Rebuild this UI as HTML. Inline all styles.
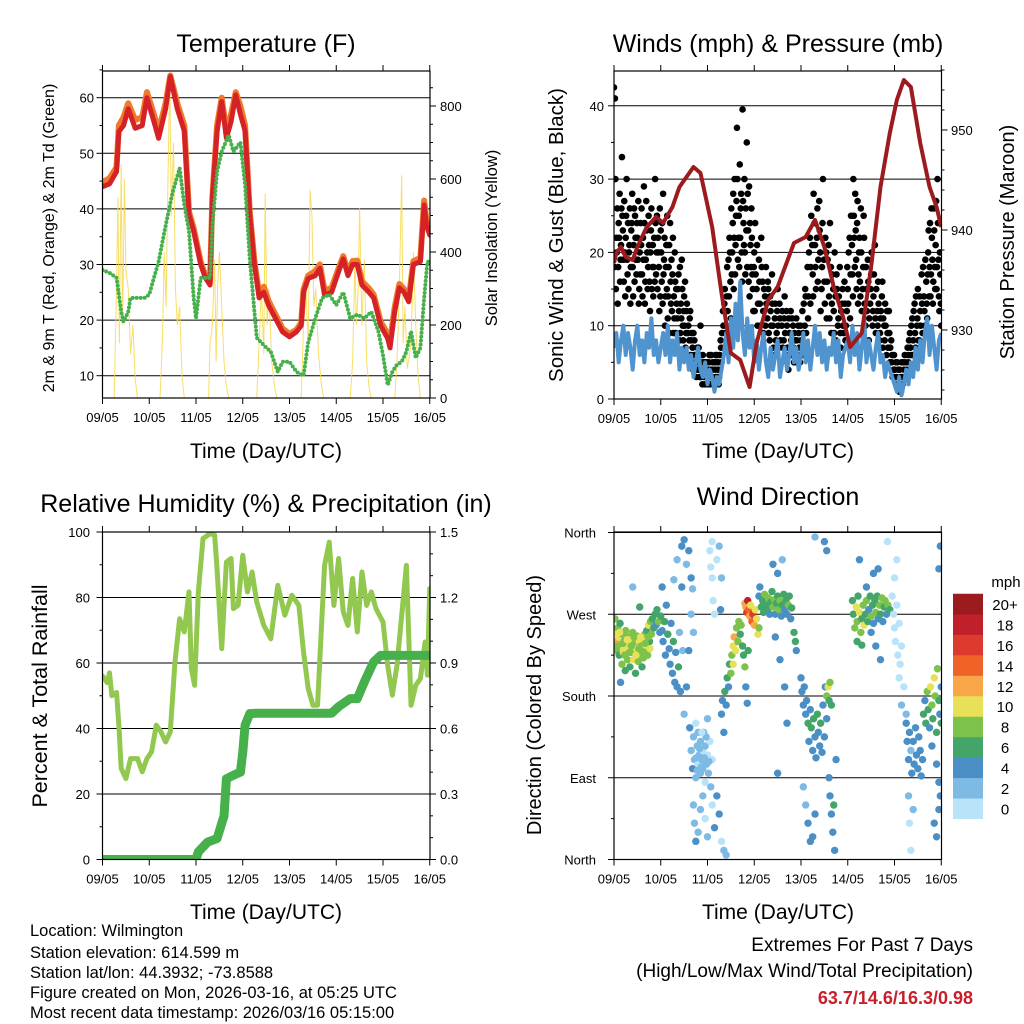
<!DOCTYPE html>
<html><head><meta charset="utf-8">
<style>
html,body{margin:0;padding:0;background:#fff;}
svg{display:block;font-family:"Liberation Sans",Arial,sans-serif;}
</style></head>
<body>
<svg id="fig" width="1024" height="1024" viewBox="0 0 1024 1024" xmlns="http://www.w3.org/2000/svg">
<defs>
<clipPath id="cpT"><rect x="102.5" y="71" width="327.5" height="327"/></clipPath>
<clipPath id="cpW"><rect x="614" y="71" width="327.5" height="328"/></clipPath>
<clipPath id="cpR"><rect x="102.5" y="532" width="327.5" height="327.5"/></clipPath>
<clipPath id="cpD"><rect x="614" y="532" width="327.5" height="327.5"/></clipPath>
</defs>
</svg>
<script>
// ---------- DATA ----------
const dayLabels=['09/05','10/05','11/05','12/05','13/05','14/05','15/05','16/05'];
const tempTicks=[10,20,30,40,50,60];
const solarTicks=[0,200,400,600,800];
const windTicks=[0,10,20,30,40];
const presTicks=[930,940,950];
const rhTicks=[0,20,40,60,80,100];
const rainTicks=['0.0','0.3','0.6','0.9','1.2','1.5'];
const dirTicks=['North','East','South','West','North'];
const speedBins=['0','2','4','6','8','10','12','14','16','18','20+'];
const speedColors=['#b9e3f8','#7dbbe5','#4a8fc6','#44a56b','#7cc24b','#e9e05a','#f7a748','#ef6328','#dc3a2c','#c0202a','#9b1b1f'];

const tempDays=[0,0.15,0.3,0.35,0.45,0.55,0.7,0.85,0.95,1.1,1.2,1.35,1.45,1.6,1.75,1.85,1.95,2.1,2.2,2.3,2.35,2.45,2.55,2.65,2.75,2.85,2.95,3.05,3.15,3.25,3.35,3.45,3.55,3.7,3.85,4.0,4.15,4.25,4.3,4.4,4.55,4.65,4.75,4.9,5.05,5.15,5.25,5.35,5.45,5.55,5.7,5.8,5.95,6.1,6.15,6.25,6.35,6.45,6.55,6.65,6.8,6.88,6.93,7.0];
const temp2m=[44,44.5,46.7,53.9,55,58,54.5,55,60,55.7,52.7,58,63.8,58,54,39,36,30,27.6,26.3,42,53.9,59.3,52.7,55.7,60.5,57,54,39,30,24,25,22.7,20.3,17.9,17,17.9,19,25,27.5,28,29.3,24.5,25,28.7,31,28,30,30,26.3,25,24,19,16.7,15,21.5,25.8,25,23.3,30,30.5,40.7,37,35.3];
const temp9m=[44.8,45.5,47.5,55,56.5,59,56,56.5,61,57,54,59,64,59,55,39.5,36.5,30.5,28,26.8,42,55,60,54,57,61,58.5,55,39.5,30.5,24.8,26,23.5,21,18.5,17.5,18.3,19.5,25.5,28,28.8,30,25.3,25.8,29.3,31.5,28.7,30.6,30.7,27,25.7,24.6,19.7,17.5,16,22.3,26.5,25.6,23.8,30.6,31.2,41.5,37.8,36];
const dewDays=[0,0.15,0.3,0.4,0.45,0.55,0.6,0.75,0.9,1.0,1.1,1.2,1.35,1.5,1.65,1.75,1.85,1.95,2.0,2.1,2.2,2.3,2.35,2.45,2.55,2.7,2.8,2.95,3.05,3.15,3.3,3.45,3.6,3.75,3.85,4.0,4.15,4.3,4.4,4.55,4.7,4.85,5.0,5.15,5.3,5.45,5.6,5.75,5.9,6.0,6.1,6.2,6.3,6.4,6.5,6.6,6.7,6.8,6.88,6.95,7.0];
const dewVals=[29,28.5,27.6,21.5,19.7,21.5,24,24,24,24.6,27.6,30.5,37,43,47.3,40.7,36,24,20.3,27.6,27.6,27.6,37,46.7,50.3,53.3,50.3,52,44.3,31,16.8,15.5,14.3,10.7,12.5,12.5,10.7,10,16,20.3,24,24.6,22.7,25,20.3,21,20.3,21.5,18,13.7,8.3,10.7,12,12.5,14.3,18,13.2,15,24,30.5,30.5];
const solarDays=[0,0.25,0.3,0.33,0.36,0.4,0.43,0.47,0.5,0.55,0.6,0.65,0.7,0.75,1.23,1.28,1.32,1.36,1.4,1.44,1.47,1.52,1.56,1.6,1.65,1.7,1.75,2.27,2.3,2.35,2.4,2.43,2.46,2.5,2.55,2.6,2.65,2.7,3.3,3.35,3.4,3.45,3.48,3.52,3.56,3.62,3.68,3.73,4.25,4.3,4.35,4.4,4.44,4.48,4.52,4.56,4.62,4.68,4.73,5.3,5.35,5.4,5.43,5.47,5.5,5.55,5.6,5.65,5.7,5.75,6.25,6.3,6.35,6.4,6.43,6.47,6.52,6.6,6.65,6.7,6.75,6.8,7.0];
const solarVals=[0,0,300,550,150,640,200,600,350,300,120,200,50,0,0,150,400,250,600,890,500,700,300,200,250,60,0,0,150,200,380,100,300,400,250,100,30,0,0,150,300,120,560,200,300,100,30,0,0,200,300,150,570,500,250,300,120,40,0,0,100,380,200,300,520,200,380,100,30,0,0,100,300,610,150,250,80,150,400,200,60,0,0];

const presDays=[0,0.05,0.15,0.25,0.4,0.5,0.7,0.9,1.05,1.25,1.4,1.7,1.85,2.1,2.3,2.5,2.7,2.9,3.05,3.3,3.5,3.85,4.1,4.3,4.5,4.7,4.9,5.05,5.3,5.5,5.7,5.9,6.05,6.2,6.35,6.55,6.75,6.9,7.0];
const presVals=[936.7,937.7,938.3,937.3,937,938.3,940.3,941.3,940.7,942.3,944.3,946.3,945.7,940.3,933.7,927.7,927,924.3,928.7,933,934.3,938.7,939.3,941,938.3,934.3,931.3,928.3,929.7,936.3,944.3,949.7,953,955,954.3,948.7,944.3,942.3,940.3];
const windStep=0.05;
const windVals=[7,9,5,8,10,6,9,7,4,8,10,6,8,5,9,7,11,6,8,5,7,9,6,10,5,8,6,9,4,7,5,7,4,6,3,5,7,4,3,5,2,4,3,1,3,2,4,6,9,5,11,7,13,8,16,9,6,11,7,10,5,8,4,7,9,5,3,7,4,6,8,3,5,7,4,6,9,5,7,4,6,9,5,8,4,7,10,6,9,5,8,4,7,6,9,5,8,3,6,7,8,5,10,6,9,4,7,11,5,8,6,4,7,9,5,6,3,5,4,3,2,1,3,0.5,2,4,2,5,3,7,4,8,5,9,11,6,10,7,4,8,9];
const gustPts=[[0,42.5],[0.02,41],[0.03,30],[0.05,22],[0.07,26],[0.09,18],[0.1,24],[0.12,28],[0.13,16],[0.15,21],[0.17,33],[0.18,25],[0.2,19],[0.22,27],[0.24,14],[0.25,22],[0.27,30],[0.29,17],[0.3,24],[0.32,20],[0.34,26],[0.35,13],[0.37,23],[0.39,28],[0.4,18],[0.42,21],[0.44,16],[0.45,25],[0.47,19],[0.5,22],[0.52,27],[0.54,15],[0.55,20],[0.57,24],[0.6,17],[0.62,22],[0.64,29],[0.66,13],[0.68,19],[0.7,23],[0.72,15],[0.75,21],[0.77,12],[0.8,26],[0.82,18],[0.84,14],[0.86,22],[0.88,30],[0.9,17],[0.92,25],[0.95,20],[0.97,12],[1.0,23],[1.02,16],[1.05,28],[1.07,19],[1.1,14],[1.12,21],[1.15,11],[1.17,18],[1.2,24],[1.22,13],[1.25,17],[1.27,9],[1.3,20],[1.33,15],[1.35,11],[1.38,17],[1.4,8],[1.43,13],[1.45,19],[1.47,10],[1.5,14],[1.53,7],[1.55,12],[1.58,9],[1.6,6],[1.62,11],[1.65,8],[1.67,5],[1.7,9],[1.73,6],[1.75,4],[1.78,7],[1.8,5],[1.83,3],[1.85,10],[1.88,4],[1.9,6],[1.93,3],[1.95,5],[1.98,4],[2.0,2],[2.03,5],[2.05,3],[2.08,6],[2.1,4],[2.13,2],[2.15,5],[2.18,3],[2.2,6],[2.22,4],[2.25,3],[2.28,8],[2.3,5],[2.33,12],[2.35,7],[2.37,15],[2.4,10],[2.42,18],[2.44,9],[2.46,14],[2.48,20],[2.5,11],[2.52,17],[2.54,24],[2.56,15],[2.58,30],[2.6,21],[2.62,27],[2.63,37],[2.65,19],[2.67,25],[2.69,32],[2.7,22],[2.72,28],[2.74,16],[2.75,39.5],[2.77,24],[2.79,30],[2.8,20],[2.82,26],[2.84,35],[2.85,18],[2.87,23],[2.89,29],[2.9,14],[2.92,21],[2.94,26],[2.96,17],[2.98,12],[3.0,20],[3.02,24],[3.05,15],[3.07,10],[3.1,19],[3.12,13],[3.15,22],[3.18,16],[3.2,9],[3.23,14],[3.25,18],[3.28,11],[3.3,15],[3.33,8],[3.35,12],[3.38,17],[3.4,10],[3.43,6],[3.45,13],[3.48,9],[3.5,15],[3.53,7],[3.55,11],[3.58,5],[3.6,12],[3.63,8],[3.65,14],[3.68,6],[3.7,10],[3.73,4],[3.75,9],[3.78,12],[3.8,6],[3.83,10],[3.85,5],[3.88,8],[3.9,11],[3.93,6],[3.95,9],[3.98,5],[4.0,8],[4.03,12],[4.05,6],[4.08,10],[4.1,14],[4.12,7],[4.15,11],[4.17,20],[4.2,13],[4.22,25],[4.25,17],[4.27,28],[4.3,21],[4.32,15],[4.35,26],[4.37,19],[4.4,23],[4.42,12],[4.45,18],[4.47,30],[4.5,16],[4.52,22],[4.55,11],[4.57,19],[4.6,14],[4.62,24],[4.65,9],[4.67,17],[4.7,12],[4.72,20],[4.75,8],[4.77,15],[4.8,11],[4.83,18],[4.85,7],[4.88,13],[4.9,10],[4.93,16],[4.95,8],[4.98,12],[5.0,15],[5.02,20],[5.05,11],[5.07,25],[5.1,17],[5.12,30],[5.14,22],[5.16,28],[5.18,19],[5.2,24],[5.22,13],[5.24,20],[5.26,16],[5.28,26],[5.3,12],[5.33,18],[5.35,22],[5.38,10],[5.4,15],[5.43,19],[5.45,8],[5.48,13],[5.5,17],[5.53,10],[5.55,14],[5.58,21],[5.6,9],[5.63,12],[5.65,16],[5.68,8],[5.7,11],[5.73,14],[5.75,7],[5.78,10],[5.8,13],[5.83,6],[5.85,9],[5.88,12],[5.9,5],[5.93,8],[5.95,6],[5.98,4],[6.0,3],[6.03,5],[6.05,2],[6.08,4],[6.1,1],[6.13,3],[6.15,5],[6.18,2],[6.2,4],[6.22,6],[6.25,3],[6.28,7],[6.3,5],[6.33,9],[6.35,6],[6.38,11],[6.4,8],[6.43,13],[6.45,7],[6.48,10],[6.5,15],[6.53,8],[6.55,12],[6.58,17],[6.6,9],[6.63,14],[6.65,10],[6.68,16],[6.7,11],[6.72,20],[6.74,14],[6.76,24],[6.78,17],[6.8,22],[6.82,13],[6.84,26],[6.86,18],[6.88,21],[6.9,15],[6.92,30],[6.94,19],[6.96,12],[6.98,17],[7.0,10]];
const gustPtsExtra=[[0.01,18],[0.04,15],[0.06,20],[0.08,13],[0.11,22],[0.14,19],[0.16,26],[0.19,23],[0.21,16],[0.23,20],[0.26,25],[0.28,19],[0.31,15],[0.33,21],[0.36,18],[0.38,24],[0.41,14],[0.43,26],[0.46,22],[0.48,17],[0.49,24],[0.51,19],[0.53,13],[0.56,17],[0.58,21],[0.59,26],[0.61,14],[0.63,19],[0.65,24],[0.67,16],[0.69,27],[0.71,20],[0.73,18],[0.74,25],[0.76,16],[0.78,20],[0.79,23],[0.81,15],[0.83,21],[0.85,18],[0.87,16],[0.89,24],[0.91,20],[0.93,15],[0.94,22],[0.96,18],[0.98,26],[0.99,14],[1.01,20],[1.03,24],[1.04,13],[1.06,17],[1.08,22],[1.09,10],[1.11,18],[1.13,15],[1.14,25],[1.16,14],[1.18,21],[1.19,9],[1.21,16],[1.23,19],[1.24,12],[1.26,22],[1.28,14],[1.29,11],[1.31,16],[1.32,9],[1.34,13],[1.36,8],[1.37,15],[1.39,12],[1.41,18],[1.42,9],[1.44,11],[1.46,15],[1.48,8],[1.49,12],[1.51,10],[1.52,16],[1.54,9],[1.56,13],[1.57,6],[1.59,10],[1.61,8],[1.63,12],[1.64,6],[1.66,9],[1.68,7],[1.69,4],[1.71,6],[1.72,8],[1.74,5],[1.76,3],[1.77,6],[1.79,4],[1.81,7],[1.82,4],[1.84,6],[1.86,3],[1.87,5],[1.89,2],[1.91,4],[1.92,5],[1.94,2],[1.96,4],[1.97,3],[1.99,5],[2.01,3],[2.02,4],[2.04,6],[2.06,2],[2.07,4],[2.09,3],[2.11,5],[2.12,3],[2.14,2],[2.16,4],[2.17,6],[2.19,5],[2.21,3],[2.23,5],[2.24,2],[2.26,6],[2.27,4],[2.29,7],[2.31,9],[2.34,10],[2.36,13],[2.38,9],[2.41,14],[2.43,12],[2.45,19],[2.47,22],[2.49,16],[2.51,26],[2.53,20],[2.55,28],[2.57,22],[2.59,17],[2.61,25],[2.64,30],[2.66,22],[2.68,18],[2.71,26],[2.73,20],[2.76,27],[2.78,21],[2.81,17],[2.83,23],[2.86,28],[2.88,16],[2.91,24],[2.93,18],[2.95,22],[2.97,15],[2.99,18],[3.01,12],[3.03,17],[3.06,21],[3.08,13],[3.11,16],[3.13,10],[3.16,18],[3.19,12],[3.21,15],[3.24,10],[3.26,13],[3.29,16],[3.31,9],[3.34,14],[3.36,10],[3.39,13],[3.41,7],[3.44,11],[3.46,8],[3.49,12],[3.51,10],[3.54,13],[3.56,8],[3.59,10],[3.61,7],[3.64,11],[3.66,9],[3.69,12],[3.71,7],[3.74,11],[3.76,6],[3.79,8],[3.81,11],[3.84,7],[3.86,9],[3.89,5],[3.91,8],[3.94,10],[3.96,7],[3.99,10],[4.01,6],[4.04,9],[4.06,13],[4.09,15],[4.11,9],[4.14,18],[4.16,14],[4.19,22],[4.21,18],[4.24,21],[4.26,14],[4.29,24],[4.31,18],[4.34,22],[4.36,16],[4.39,27],[4.41,20],[4.44,15],[4.46,24],[4.49,19],[4.51,13],[4.54,20],[4.56,16],[4.59,21],[4.61,11],[4.64,18],[4.66,13],[4.69,15],[4.71,9],[4.74,14],[4.76,17],[4.79,10],[4.81,14],[4.84,9],[4.86,12],[4.89,15],[4.91,9],[4.94,13],[4.96,10],[4.99,18],[5.01,13],[5.04,22],[5.06,17],[5.09,21],[5.11,14],[5.13,25],[5.15,18],[5.17,23],[5.19,15],[5.21,27],[5.23,17],[5.25,22],[5.27,14],[5.29,20],[5.32,15],[5.34,25],[5.36,13],[5.39,18],[5.41,12],[5.44,16],[5.46,11],[5.49,15],[5.51,20],[5.54,12],[5.56,17],[5.59,11],[5.61,15],[5.64,10],[5.66,13],[5.69,9],[5.71,12],[5.74,16],[5.76,11],[5.79,8],[5.81,10],[5.84,12],[5.86,7],[5.89,9],[5.91,7],[5.94,5],[5.96,3],[5.99,6],[6.01,4],[6.04,3],[6.06,5],[6.09,2],[6.11,4],[6.14,1],[6.16,3],[6.19,5],[6.21,3],[6.24,5],[6.26,4],[6.29,6],[6.31,8],[6.34,7],[6.36,10],[6.39,6],[6.41,12],[6.44,9],[6.46,14],[6.49,11],[6.51,8],[6.54,14],[6.56,10],[6.59,13],[6.61,18],[6.64,12],[6.66,19],[6.69,13],[6.71,17],[6.73,23],[6.75,18],[6.77,14],[6.79,26],[6.81,19],[6.83,16],[6.85,23],[6.87,15],[6.89,27],[6.91,18],[6.93,24],[6.95,14],[6.97,20],[6.99,13]];

const rhDays=[0,0.1,0.15,0.2,0.3,0.35,0.4,0.5,0.6,0.75,0.85,0.95,1.05,1.15,1.25,1.35,1.45,1.55,1.65,1.75,1.85,1.9,1.97,2.05,2.15,2.3,2.4,2.45,2.55,2.65,2.75,2.8,2.9,3.0,3.1,3.2,3.3,3.45,3.6,3.75,3.9,4.05,4.2,4.3,4.4,4.5,4.6,4.75,4.85,4.95,5.05,5.15,5.25,5.35,5.45,5.55,5.65,5.75,5.85,6.0,6.1,6.2,6.3,6.5,6.6,6.7,6.8,6.9,6.95,7.0];
const rhVals=[56,54,57,50,51,41,27.8,24.7,30.8,30.8,26.8,30.8,32.9,41,39,35.9,39,60.3,73.5,69.5,81.7,58.3,53.2,81.7,98,99.5,99,88.8,64.4,90.8,91.9,76.6,77.6,92.9,81.7,87.8,78.6,71.5,67.4,83.7,74.6,80.7,77.6,63.4,52.2,47.1,47.1,89.8,96.9,77.6,91.9,75.6,71.5,85.8,69.5,87.8,77.6,81.7,76.6,72.5,59.3,50.2,59.3,89.8,47.1,53.2,55.2,66.4,56.3,82.7];
const rainDays=[0,2.0,2.05,2.25,2.45,2.6,2.65,2.8,2.95,3.0,3.05,3.15,3.3,4.9,5.05,5.3,5.45,5.6,5.8,5.95,7.0];
const rainVals=[0,0,0.035,0.08,0.096,0.2,0.37,0.386,0.4,0.49,0.615,0.668,0.67,0.67,0.70,0.737,0.737,0.813,0.905,0.935,0.935];

const dirPts=[[0.02,265,8],[0.03,250,10],[0.05,240,12],[0.06,230,9],[0.08,255,8],[0.1,245,11],[0.11,225,7],[0.13,260,6],[0.15,235,10],[0.17,215,8],[0.18,248,9],[0.2,228,10],[0.22,240,7],[0.24,208,6],[0.25,252,8],[0.27,233,10],[0.29,220,9],[0.3,245,8],[0.32,237,11],[0.34,212,7],[0.36,242,10],[0.38,228,8],[0.4,250,9],[0.42,220,10],[0.44,238,8],[0.46,205,7],[0.48,232,10],[0.5,246,9],[0.52,218,8],[0.54,240,11],[0.56,226,9],[0.58,235,8],[0.6,212,7],[0.62,244,10],[0.64,230,8],[0.66,248,9],[0.68,236,10],[0.7,252,7],[0.72,225,8],[0.74,258,10],[0.76,240,6],[0.78,262,9],[0.8,248,8],[0.82,265,6],[0.85,255,7],[0.88,270,6],[0.9,258,5],[0.92,275,6],[0.95,262,8],[0.98,250,5],[0.14,195,4],[0.4,300,3],[0.55,278,7],
[0.07,235,8],[0.12,250,10],[0.19,238,8],[0.23,225,9],[0.28,242,10],[0.33,228,8],[0.37,235,9],[0.43,245,8],[0.47,225,10],[0.53,232,8],[0.57,245,10],[0.63,222,8],[0.67,238,9],[0.73,245,8],[0.77,232,10],
[1.0,268,6],[1.03,252,5],[1.05,240,4],[1.08,262,6],[1.1,225,5],[1.12,280,4],[1.15,248,6],[1.18,232,4],[1.2,215,5],[1.22,260,4],[1.25,205,4],[1.27,240,6],[1.3,195,4],[1.32,228,5],[1.35,190,4],[1.38,212,6],[1.4,250,3],[1.42,185,4],[1.45,300,4],[1.47,230,3],[1.03,300,5],[1.28,308,3],
[1.35,330,3],[1.45,345,4],[1.5,352,4],[1.55,325,3],[1.6,340,4],[1.65,310,4],[1.68,298,3],[1.5,160,2],[1.55,190,4],[1.6,230,4],[1.65,270,2],[1.7,250,2],
[1.62,145,4],[1.65,120,2],[1.68,100,4],[1.7,135,2],[1.72,110,2],[1.75,150,1],[1.75,90,2],[1.78,125,2],[1.8,105,1],[1.8,140,2],[1.82,115,2],[1.85,95,2],[1.85,130,3],[1.88,110,2],[1.9,120,1],[1.9,100,2],[1.92,140,2],[1.95,85,1],[1.95,125,2],[1.98,105,2],[2.0,115,1],[2.0,155,2],[2.02,95,2],[2.05,130,1],[2.07,80,2],[2.1,110,1],[1.7,60,2],[1.72,40,2],[1.75,20,4],[1.8,30,3],[1.85,55,2],[1.9,70,2],[1.95,45,1],[2.0,25,2],[2.1,60,1],[2.15,35,4],[2.2,70,4],[2.25,50,4],[2.3,20,1],[2.35,10,2],[2.4,5,2],
[1.76,112,2],[1.83,122,2],[1.87,102,2],[1.93,112,2],[1.97,135,2],[2.03,108,2],[1.78,98,2],[1.88,140,1],
[2.05,340,0],[2.07,322,0],[2.1,310,0],[2.12,285,0],[2.15,270,1],[2.1,350,1],[2.2,330,1],[2.25,345,2],[2.3,310,3],[2.28,275,4],
[2.3,160,4],[2.32,175,4],[2.35,140,4],[2.37,185,6],[2.4,170,4],[2.42,200,6],[2.45,190,4],[2.47,215,6],[2.5,205,8],[2.52,225,8],[2.55,235,10],[2.55,215,10],[2.57,245,12],[2.6,230,10],[2.62,255,9],[2.65,240,8],[2.67,262,9],[2.7,248,7],[2.72,258,8],[2.75,235,7],[2.77,225,6],[2.8,212,8],[2.82,190,4],[2.85,172,4],[2.87,230,6],
[2.8,282,12],[2.82,278,13],[2.84,272,16],[2.86,285,18],[2.88,275,14],[2.9,268,12],[2.92,280,10],[2.95,262,15],[2.97,270,17],[3.0,258,12],[3.02,275,10],[3.05,265,11],[3.08,248,10],[3.1,255,8],
[3.1,290,4],[3.12,300,4],[3.15,278,6],[3.18,285,7],[3.2,272,6],[3.22,292,8],[3.25,280,7],[3.28,275,6],[3.3,288,8],[3.33,270,5],[3.35,283,7],[3.38,295,6],[3.4,278,9],[3.43,286,8],[3.45,270,4],[3.48,282,7],[3.5,290,6],[3.53,275,8],[3.55,285,9],[3.58,268,4],[3.6,280,6],[3.63,292,7],[3.65,275,5],[3.68,285,6],[3.7,270,4],[3.73,280,8],[3.75,290,6],[3.78,265,4],[3.8,277,6],[3.85,250,6],[3.88,240,7],[3.9,230,4],[3.4,325,4],[3.5,315,4],[3.6,330,3],[3.45,245,4],[3.55,220,4],[3.65,190,4],[3.7,150,4],[3.5,95,4],
[4.0,200,4],[4.02,185,4],[4.05,170,4],[4.07,190,4],[4.1,160,4],[4.12,175,4],[4.15,150,6],[4.17,130,4],[4.2,165,4],[4.22,145,6],[4.25,120,4],[4.27,155,6],[4.3,135,4],[4.32,112,4],[4.35,160,6],[4.37,140,4],[4.4,125,4],[4.42,150,6],[4.45,118,4],[4.47,170,4],[4.5,135,4],[4.52,190,4],[4.55,155,4],[4.05,80,2],[4.1,60,2],[4.15,40,4],[4.2,20,4],[4.25,25,4],[4.3,50,4],
[4.55,180,8],[4.58,190,10],[4.6,175,6],[4.62,195,8],[4.65,170,6],
[4.6,90,4],[4.62,70,4],[4.65,50,4],[4.68,30,4],[4.7,60,6],[4.72,10,4],[4.75,110,4],[4.5,350,4],[4.55,340,4],[4.3,355,2],
[5.1,285,6],[5.12,270,6],[5.15,255,8],[5.18,278,10],[5.2,262,8],[5.22,290,6],[5.25,272,10],[5.28,250,8],[5.3,265,6],[5.33,280,8],[5.35,258,10],[5.38,270,6],[5.4,285,8],[5.43,262,6],[5.45,275,4],[5.48,290,6],[5.5,268,8],[5.53,280,6],[5.55,260,4],[5.58,285,6],[5.6,272,8],[5.63,290,6],[5.65,265,4],[5.68,280,8],[5.7,270,6],[5.73,288,8],[5.75,262,4],[5.78,278,6],[5.8,285,8],[5.83,270,4],[5.86,280,8],[5.9,275,6],[5.2,240,6],[5.3,236,7],[5.5,250,4],[5.6,235,4],[5.7,220,4],[5.4,300,4],[5.55,315,4],[5.65,320,4],[5.25,330,4],
[5.95,290,1],[5.98,270,0],[6.0,255,1],[6.02,240,0],[6.05,280,1],[6.07,225,0],[6.1,260,0],[6.12,215,1],[6.15,235,0],[6.0,310,0],[6.05,330,1],[6.1,200,0],[6.2,190,0],[6.15,170,2],[6.25,160,2],[5.85,350,0],
[6.25,150,4],[6.27,130,4],[6.3,110,4],[6.32,140,4],[6.35,120,2],[6.37,95,4],[6.4,130,4],[6.42,105,4],[6.45,145,4],[6.47,115,4],[6.5,100,4],[6.52,135,4],[6.55,120,4],[6.57,92,4],[6.6,110,4],[6.3,70,2],[6.32,40,1],[6.35,10,0],[6.4,55,2],
[6.62,160,6],[6.65,175,4],[6.67,150,6],[6.7,185,8],[6.72,165,6],[6.75,145,4],[6.77,190,10],[6.8,170,8],[6.82,155,6],[6.85,200,10],[6.87,180,8],[6.9,140,6],[6.92,210,8],[6.95,175,6],[6.97,160,4],[6.8,125,4],[6.9,105,4],[6.95,85,4],[6.98,70,4],[6.85,40,4],[6.9,25,4],[6.95,55,4],[6.95,320,4],[6.98,345,4],[7.0,190,4],[7.0,150,6]];

// ---------- SCALES ----------
const NS='http://www.w3.org/2000/svg';
const svg=document.getElementById('fig');
const xL=d=>102.5+d*46.75;
const xR=d=>614+d*46.75;
const yTemp=v=>97.7+(60-v)*5.56;
const ySolar=w=>398-w*0.365;
const yWind=v=>399-v*7.33;
const yPres=p=>130+(950-p)*10;
const yRH=v=>859.5-v*3.275;
const yRain=p=>859.5-p*218.33;
const yDir=d=>859.5-d*0.9083;

function mk(tag,attrs,name,inter,parent){
  const e=document.createElementNS(NS,tag);
  for(const k in attrs) e.setAttribute(k,attrs[k]);
  
  
  (parent||svg).appendChild(e);
  return e;
}
function txt(x,y,s,size,name,opts){
  opts=opts||{};
  const a={x:x,y:y,'font-size':size,'text-anchor':opts.anchor||'middle',fill:opts.fill||'#000'};
  if(opts.weight) a['font-weight']=opts.weight;
  if(opts.rot) a.transform='rotate(-90 '+x+' '+y+')';
  const t=mk('text',a,name,false);
  t.textContent=s;
  return t;
}
function pathFrom(xs,ys){let d='';for(let i=0;i<xs.length;i++){d+=(i?'L':'M')+xs[i].toFixed(2)+' '+ys[i].toFixed(2);}return d;}

function frame(x0,y0,w,h,xf,name){
  for(let i=0;i<dayLabels.length;i++){
    const x=xf(i);
    mk('line',{x1:x,x2:x,y1:y0+h,y2:y0+h+6,stroke:'#000','stroke-width':1},name+'-xtick',false);
    mk('line',{x1:x,x2:x,y1:y0,y2:y0-6,stroke:'#000','stroke-width':1},name+'-xtick-top',false);
    txt(x,y0+h+24,dayLabels[i],13,name+'-xtick-label');
  }
  mk('rect',{x:x0,y:y0,width:w,height:h,fill:'none',stroke:'#000','stroke-width':1.2},name+'-frame',false);
}
function ytick(x,y,dir,len,name){
  mk('line',{x1:x,x2:x+dir*len,y1:y,y2:y,stroke:'#000','stroke-width':1},name,false);
}

// ---------- PANEL 1: TEMPERATURE ----------
{
  const g=mk('g',{'clip-path':'url(#cpT)'},'temperature-plot-area',false);
  tempTicks.forEach(v=>{mk('line',{x1:102.5,x2:430,y1:yTemp(v),y2:yTemp(v),stroke:'#000','stroke-width':1},'temp-gridline',false,g);});
  mk('path',{d:pathFrom(solarDays.map(xL),solarVals.map(ySolar)),fill:'none',stroke:'#f7d84a','stroke-width':1,'stroke-opacity':0.85},'solar-insolation-line',false,g);
  mk('path',{d:pathFrom(tempDays.map(xL),temp9m.map(yTemp)),fill:'none',stroke:'#ef7a2c','stroke-width':6,'stroke-linejoin':'round','stroke-linecap':'round'},'temp-9m-line',false,g);
  mk('path',{d:pathFrom(tempDays.map(xL),temp2m.map(yTemp)),fill:'none',stroke:'#d42227','stroke-width':5,'stroke-linejoin':'round','stroke-linecap':'round'},'temp-2m-line',false,g);
  mk('path',{d:pathFrom(dewDays.map(xL),dewVals.map(yTemp)),fill:'none',stroke:'#46b04a','stroke-width':4,'stroke-dasharray':'0 4','stroke-linecap':'round','stroke-linejoin':'round'},'dewpoint-line',false,g);
  frame(102.5,71,327.5,327,xL,'temp');
  tempTicks.forEach(v=>{ytick(102.5,yTemp(v),-1,6,'temp-ytick');txt(94,yTemp(v)+5,String(v),13,'temp-ytick-label',{anchor:'end'});});
  for(let v=10;v<=65;v+=5){ if(v%10) ytick(102.5,yTemp(v),-1,3,'temp-minor-tick'); }
  solarTicks.forEach(v=>{ytick(430,ySolar(v),1,6,'solar-ytick');txt(440,ySolar(v)+5,String(v),13,'solar-ytick-label',{anchor:'start'});});
  for(let v=50;v<900;v+=50){ if(v%200) ytick(430,ySolar(v),1,3,'solar-minor-tick'); }
  txt(266,52,'Temperature (F)',25,'temperature-title');
  txt(266,458,'Time (Day/UTC)',21,'temp-x-axis-title');
  txt(54,238,'2m & 9m T (Red, Orange) & 2m Td (Green)',16,'temp-y-axis-title',{rot:1});
  txt(497,238,'Solar Insolation (Yellow)',16.5,'solar-y-axis-title',{rot:1});
}

// ---------- PANEL 2: WINDS ----------
{
  const g=mk('g',{'clip-path':'url(#cpW)'},'winds-plot-area',false);
  windTicks.forEach(v=>{mk('line',{x1:614,x2:941.5,y1:yWind(v),y2:yWind(v),stroke:'#000','stroke-width':1},'wind-gridline',false,g);});
  gustPts.forEach(p=>{
    mk('circle',{cx:xR(p[0]),cy:yWind(p[1]),r:3.3,fill:'#000'},'gust-point',false,g);
  });
  gustPtsExtra.forEach(p=>{
    mk('circle',{cx:xR(p[0]),cy:yWind(p[1]),r:3.3,fill:'#000'},'gust-point',false,g);
  });
  mk('path',{d:pathFrom(windVals.map((v,i)=>xR(i*windStep)),windVals.map(yWind)),fill:'none',stroke:'#4f93cf','stroke-width':4,'stroke-linejoin':'round'},'sonic-wind-line',false,g);
  mk('path',{d:pathFrom(presDays.map(xR),presVals.map(yPres)),fill:'none',stroke:'#9b1b1f','stroke-width':4,'stroke-linejoin':'round'},'pressure-line',false,g);
  frame(614,71,327.5,328,xR,'wind');
  windTicks.forEach(v=>{ytick(614,yWind(v),-1,6,'wind-ytick');txt(604,yWind(v)+5,String(v),13,'wind-ytick-label',{anchor:'end'});});
  for(let v=5;v<45;v+=10) ytick(614,yWind(v),-1,3,'wind-minor-tick');
  presTicks.forEach(v=>{ytick(941.5,yPres(v),1,6,'pressure-ytick');txt(951,yPres(v)+5,String(v),13,'pressure-ytick-label',{anchor:'start'});});
  for(let v=924;v<=956;v+=2){ if(v%10) ytick(941.5,yPres(v),1,3,'pressure-minor-tick'); }
  txt(778,52,'Winds (mph) & Pressure (mb)',25,'winds-title');
  txt(778,458,'Time (Day/UTC)',21,'wind-x-axis-title');
  txt(563,235,'Sonic Wind & Gust (Blue, Black)',20.5,'wind-y-axis-title',{rot:1});
  txt(1014,242,'Station Pressure (Maroon)',20,'pressure-y-axis-title',{rot:1});
}

// ---------- PANEL 3: RH & PRECIP ----------
{
  const g=mk('g',{'clip-path':'url(#cpR)'},'humidity-plot-area',false);
  rhTicks.forEach(v=>{mk('line',{x1:102.5,x2:430,y1:yRH(v),y2:yRH(v),stroke:'#000','stroke-width':1},'rh-gridline',false,g);});
  mk('path',{d:pathFrom(rhDays.map(xL),rhVals.map(yRH)),fill:'none',stroke:'#92c84f','stroke-width':5,'stroke-linejoin':'round','stroke-linecap':'round'},'relative-humidity-line',false,g);
  mk('path',{d:pathFrom(rainDays.map(xL),rainVals.map(yRain)),fill:'none',stroke:'#46b04a','stroke-width':9,'stroke-linejoin':'round','stroke-linecap':'round'},'precipitation-line',false,g);
  frame(102.5,532,327.5,327.5,xL,'rh');
  rhTicks.forEach(v=>{ytick(102.5,yRH(v),-1,6,'rh-ytick');txt(90,yRH(v)+5,String(v),13,'rh-ytick-label',{anchor:'end'});});
  for(let v=10;v<100;v+=20) ytick(102.5,yRH(v),-1,3,'rh-minor-tick');
  rainTicks.forEach(s=>{const v=parseFloat(s);ytick(430,yRain(v),1,6,'rain-ytick');txt(440,yRain(v)+5,s,13,'rain-ytick-label',{anchor:'start'});});
  for(let v=0.1;v<1.5;v+=0.1) ytick(430,yRain(v),1,3,'rain-minor-tick');
  txt(266,512,'Relative Humidity (%) & Precipitation (in)',25,'humidity-title');
  txt(266,919,'Time (Day/UTC)',21,'rh-x-axis-title');
  txt(47,696,'Percent & Total Rainfall',21.5,'rh-y-axis-title',{rot:1});
}

// ---------- PANEL 4: WIND DIRECTION ----------
{
  const g=mk('g',{'clip-path':'url(#cpD)'},'direction-plot-area',false);
  dirTicks.forEach((s,i)=>{mk('line',{x1:614,x2:941.5,y1:yDir(i*90),y2:yDir(i*90),stroke:'#000','stroke-width':1},'direction-gridline',false,g);});
  dirPts.forEach(p=>{
    const bin=Math.max(0,Math.min(10,Math.floor(p[2]/2)));
    mk('circle',{cx:xR(p[0]),cy:yDir(p[1]),r:3.7,fill:speedColors[bin]},'direction-point',false,g);
  });
  frame(614,532,327.5,327.5,xR,'dir');
  dirTicks.forEach((s,i)=>{ytick(614,yDir(i*90),-1,6,'dir-ytick');txt(596,yDir(i*90)+5,s,13,'dir-ytick-label',{anchor:'end'});});
  for(let d=45;d<360;d+=90) ytick(614,yDir(d),-1,3,'dir-minor-tick');
  txt(778,505,'Wind Direction',25,'wind-direction-title');
  txt(778,919,'Time (Day/UTC)',21,'dir-x-axis-title');
  txt(541,705,'Direction (Colored By Speed)',20,'dir-y-axis-title',{rot:1});
  const bh=20.45;
  speedBins.forEach((s,i)=>{
    const y=818.7-(i+1)*bh;
    mk('rect',{x:953,y:y,width:30,height:bh+0.3,fill:speedColors[i]},'colorbar-bin',false);
    txt(1005,y+bh/2+6,s,15,'colorbar-label');
  });
  txt(1006,587,'mph',15,'colorbar-title');
}

// ---------- FOOTER ----------
const infoLines=['Location: Wilmington','Station elevation: 614.599 m','Station lat/lon: 44.3932; -73.8588','Figure created on Mon, 2026-03-16, at 05:25 UTC','Most recent data timestamp: 2026/03/16 05:15:00'];
const infoY=[936,958,978,998,1018];
infoLines.forEach((s,i)=>{txt(30,infoY[i],s,16.5,'station-info-line',{anchor:'start'});});
txt(973,951,'Extremes For Past 7 Days',19,'extremes-heading',{anchor:'end'});
txt(973,977,'(High/Low/Max Wind/Total Precipitation)',19,'extremes-subheading',{anchor:'end'});
txt(973,1004,'63.7/14.6/16.3/0.98',18,'extremes-values',{anchor:'end',fill:'#c8202a',weight:'bold'});
</script>
</body></html>
